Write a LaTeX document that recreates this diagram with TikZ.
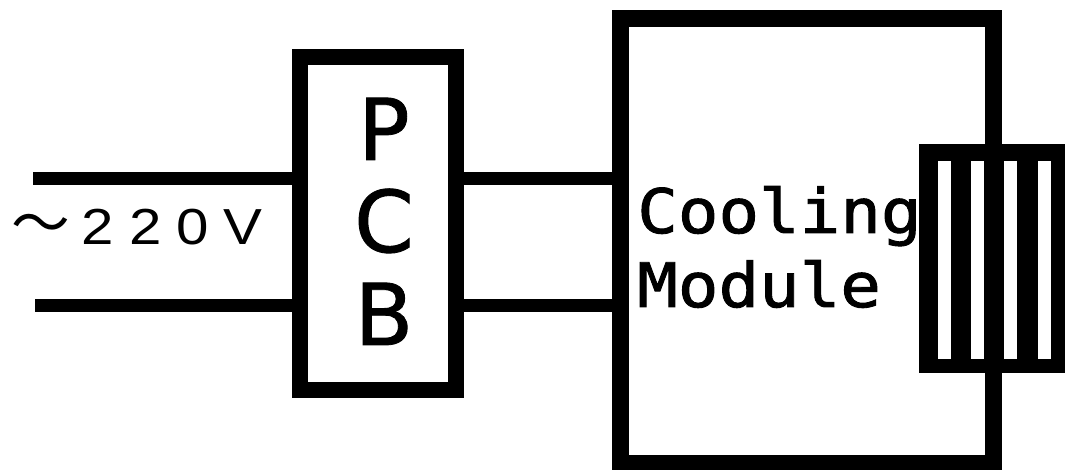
\documentclass[tikz,border=0pt]{standalone}
\usepackage{fontspec}
\newfontfamily\jpfont{Noto Sans CJK JP}
\newfontfamily\volfont[LetterSpace=29,FakeStretch=1.15]{Liberation Sans}
\newfontfamily\modfont[FakeStretch=1.1,FakeBold=1.5]{DejaVu Sans Mono}
\newfontfamily\pcbfont[FakeBold=1]{DejaVu Sans}
\begin{document}
\begin{tikzpicture}[x=0.75pt,y=-0.75pt,
  pcbbox/.style={draw=black, line width=12pt, minimum width=117pt, minimum height=249.75pt, inner sep=0pt},
  modbox/.style={draw=black, line width=12.75pt, minimum width=279.75pt, minimum height=333.75pt, inner sep=0pt},
  wire/.style={draw=black, line width=9.75pt},
  fins/.style={fill=black, minimum width=109.5pt, minimum height=171.75pt, inner sep=0pt},
  slot/.style={fill=white, minimum width=9.75pt, minimum height=148.5pt, inner sep=0pt},
  pcbletter/.style={anchor=base, inner sep=0pt, font=\pcbfont\fontsize{64}{64}\selectfont},
  modtext/.style={anchor=base west, inner sep=0pt, font=\modfont\fontsize{46}{46}\selectfont},
  voltext/.style={anchor=base west, inner sep=0pt, font=\volfont\fontsize{38}{38}\selectfont}
]
\useasboundingbox[fill=white] (0,0) rectangle (1065,470);
\node[pcbbox] (pcb) at (378,224) {};
\node[modbox] (mod) at (807,241) {};
\node[fins] (rad) at (992,258.5) {};
\node[slot] (s1) at (944.5,260) {};
\node[slot] (s2) at (977.5,260) {};
\node[slot] (s3) at (1010.5,260) {};
\node[slot] (s4) at (1044.5,260) {};
\coordinate (inT) at (33,178.5);
\coordinate (inB) at (35,306);
\draw[wire] (inT) -- (inT -| pcb.west);
\draw[wire] (inB) -- (inB -| pcb.west);
\draw[wire] (pcb.east |- inT) -- (inT -| mod.west);
\draw[wire] (pcb.east |- inB) -- (inB -| mod.west);
\node[pcbletter] (lp) at (384,160) {P};
\node[pcbletter] (lc) at (384,252) {C};
\node[pcbletter] (lb) at (384,345) {B};
\node[modtext] (cool) at (637,233) {Cooling};
\node[modtext] (modl) at (637,307) {Module};
\node[voltext] (volt) at (11,245) {{\jpfont\fontsize{44}{44}\selectfont ～}\hspace{9pt}220V};
\end{tikzpicture}
\end{document}
